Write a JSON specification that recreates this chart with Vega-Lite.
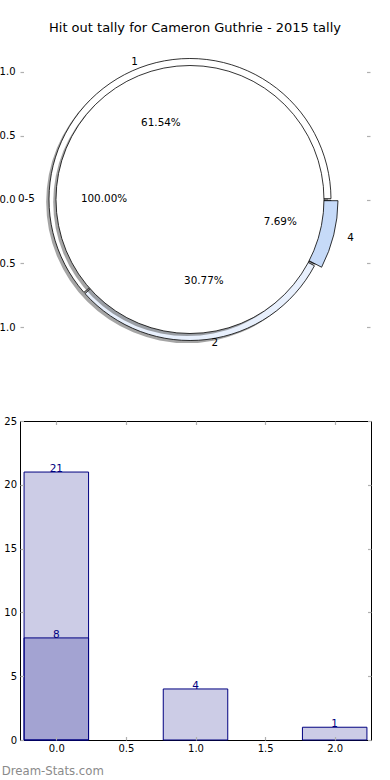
{
  "$schema": "https://vega.github.io/schema/vega-lite/v6.json",
  "padding": {"left": -5, "top": 22, "right": 0, "bottom": 0},
  "spacing": 68,
  "bounds": "flush",
  "config": {
    "locale": {"number": {"decimal": ".", "thousands": ",", "grouping": [3], "currency": ["$", ""], "minus": "-"}},
    "font": "DejaVu Sans",
    "view": {"stroke": null},
    "axis": {"labelFont": "DejaVu Sans", "labelFontSize": 10, "labelColor": "black", "tickColor": "#b0b0b0", "tickWidth": 1.2, "grid": false, "domain": false, "title": null, "minExtent": 0},
    "text": {"font": "DejaVu Sans", "color": "black"}
  },
  "vconcat": [
    {
      "width": 350,
      "height": 307,
      "title": {"text": "Hit out tally for Cameron Guthrie - 2015 tally", "fontSize": 13, "fontWeight": "normal", "color": "black", "anchor": "middle", "offset": 8},
      "layer": [
        {
          "data": {"values": [{"label": "0-5", "count": 1}]},
          "mark": {"type": "arc", "radius": 141, "fill": "#4c4c4c", "fillOpacity": 0.5, "strokeWidth": 0},
          "encoding": {
            "theta": {"field": "count", "type": "quantitative", "stack": true, "scale": {"range": [1.5708, 7.854]}},
            "x": {"datum": -0.02, "type": "quantitative", "scale": {"domain": [-1.206, 1.277], "nice": false, "zero": false}, "axis": null},
            "y": {"datum": -0.02, "type": "quantitative", "scale": {"domain": [-1.2, 1.2], "nice": false, "zero": false}, "axis": null}
          }
        },
        {
          "data": {"values": [
            {"label": "4", "count": 1, "pct": "7.69%", "ord": 1},
            {"label": "2", "count": 4, "pct": "30.77%", "ord": 2},
            {"label": "1", "count": 8, "pct": "61.54%", "ord": 3}
          ]},
          "encoding": {
            "theta": {"field": "count", "type": "quantitative", "stack": true, "scale": {"range": [1.5708, 7.854]}},
            "order": {"field": "ord", "type": "quantitative"},
            "color": {"field": "label", "type": "nominal", "scale": {"domain": ["4", "2", "1"], "range": ["#c6daf8", "#e8f0fd", "#ffffff"]}, "legend": null},
            "x": {"datum": 0, "type": "quantitative", "scale": {"domain": [-1.206, 1.277], "nice": false, "zero": false}, "axis": null},
            "y": {"datum": 0, "type": "quantitative", "scale": {"domain": [-1.2, 1.2], "nice": false, "zero": false},
                  "axis": {"orient": "left", "values": [-1, -0.5, 0, 0.5, 1], "format": ".1f", "offset": -3.5, "tickSize": 3.5, "labelPadding": 5}}
          },
          "layer": [
            {
              "mark": {"type": "arc", "radius": 141, "radius2": 0, "stroke": "black", "strokeWidth": 0.8, "padAngle": 0.012}
            },
            {
              "mark": {"type": "arc", "radius": 148, "radius2": 133, "stroke": "black", "strokeWidth": 0.8, "padAngle": 0.012},
              "encoding": {"opacity": {"condition": {"test": "datum.label == '4'", "value": 1}, "value": 0}}
            }
          ]
        },
        {
          "data": {"values": [{"label": "0-5", "count": 1, "pct": "100.00%"}]},
          "encoding": {
            "theta": {"field": "count", "type": "quantitative", "stack": true, "scale": {"range": [1.5708, 7.854]}},
            "x": {"datum": 0, "type": "quantitative", "scale": {"domain": [-1.206, 1.277], "nice": false, "zero": false}, "axis": null},
            "y": {"datum": 0, "type": "quantitative", "scale": {"domain": [-1.2, 1.2], "nice": false, "zero": false},
                  "axis": {"orient": "right", "values": [-1, -0.5, 0, 0.5, 1], "labels": false, "offset": -3.5, "tickSize": 3.5}}
          },
          "layer": [
            {
              "mark": {"type": "arc", "radius": 134, "fill": "#4c4c4c", "fillOpacity": 0.5, "strokeWidth": 0, "xOffset": -2.8, "yOffset": 2.6}
            },
            {
              "mark": {"type": "arc", "radius": 134, "fill": "white", "stroke": "black", "strokeWidth": 0.8}
            },
            {
              "mark": {"type": "text", "radius": 86, "align": "center", "baseline": "middle", "fontSize": 10.4},
              "encoding": {"text": {"field": "pct"}}
            },
            {
              "mark": {"type": "text", "radius": 155, "align": "right", "baseline": "middle", "fontSize": 10.4},
              "encoding": {"text": {"field": "label"}}
            }
          ]
        },
        {
          "data": {"values": [
            {"label": "4", "count": 1, "pct": "7.69%", "ord": 1},
            {"label": "2", "count": 4, "pct": "30.77%", "ord": 2},
            {"label": "1", "count": 8, "pct": "61.54%", "ord": 3}
          ]},
          "encoding": {
            "theta": {"field": "count", "type": "quantitative", "stack": true, "scale": {"range": [1.5708, 7.854]}},
            "order": {"field": "ord", "type": "quantitative"},
            "x": {"datum": 0, "type": "quantitative", "scale": {"domain": [-1.206, 1.277], "nice": false, "zero": false}, "axis": null},
            "y": {"datum": 0, "type": "quantitative", "scale": {"domain": [-1.2, 1.2], "nice": false, "zero": false}, "axis": null}
          },
          "layer": [
            {
              "mark": {"type": "text", "radius": 147, "align": "right", "baseline": "middle", "fontSize": 10.4},
              "encoding": {"text": {"condition": {"test": "datum.label == '1'", "field": "label"}, "value": ""}}
            },
            {
              "mark": {"type": "text", "radius": 145, "align": "left", "baseline": "middle", "fontSize": 10.4, "dx": 4},
              "encoding": {"text": {"condition": {"test": "datum.label == '2'", "field": "label"}, "value": ""}}
            },
            {
              "mark": {"type": "text", "radius": 162, "align": "left", "baseline": "middle", "fontSize": 10.4},
              "encoding": {"text": {"condition": {"test": "datum.label == '4'", "field": "label"}, "value": ""}}
            },
            {
              "mark": {"type": "text", "radius": 82, "align": "center", "baseline": "middle", "fontSize": 10.4},
              "encoding": {"text": {"condition": {"test": "datum.label == '1'", "field": "pct"}, "value": ""}}
            },
            {
              "mark": {"type": "text", "radius": 82, "align": "center", "baseline": "middle", "fontSize": 10.4, "dx": 4},
              "encoding": {"text": {"condition": {"test": "datum.label == '2'", "field": "pct"}, "value": ""}}
            },
            {
              "mark": {"type": "text", "radius": 93, "align": "center", "baseline": "middle", "fontSize": 10.4},
              "encoding": {"text": {"condition": {"test": "datum.label == '4'", "field": "pct"}, "value": ""}}
            }
          ]
        }
      ],
      "resolve": {"scale": {"theta": "independent", "color": "independent"}, "axis": {"y": "independent"}}
    },
    {
      "width": 351,
      "height": 319,
      "view": {"stroke": "black", "strokeWidth": 1},
      "title": {"text": "Dream-Stats.com", "orient": "bottom", "anchor": "start", "frame": "bounds", "fontSize": 11.7, "fontWeight": "normal", "color": "#8a8a8a", "offset": 13, "dx": -2},
      "data": {"values": [
        {"x": 0, "v": 21},
        {"x": 1, "v": 4},
        {"x": 2, "v": 1},
        {"x": 0, "v": 8}
      ]},
      "layer": [
        {
          "mark": {"type": "bar", "width": 64.5, "fill": "#000080", "fillOpacity": 0.2, "stroke": "#000080", "strokeWidth": 1},
          "encoding": {
            "x": {"field": "x", "type": "quantitative", "scale": {"domain": [-0.225, 2.225], "nice": false, "zero": false},
                  "axis": {"orient": "bottom", "values": [0, 0.5, 1, 1.5, 2], "format": ".1f", "offset": -3.5, "tickSize": 3.5, "labelPadding": 3, "zindex": 1}},
            "y": {"field": "v", "type": "quantitative", "stack": null, "scale": {"domain": [0, 25], "nice": false},
                  "axis": {"orient": "left", "values": [0, 5, 10, 15, 20, 25], "offset": -3.5, "tickSize": 3.5, "labelPadding": 3.5, "zindex": 1}}
          }
        },
        {
          "mark": {"type": "text", "color": "#000080", "fontSize": 10.5, "baseline": "alphabetic", "dy": 0},
          "encoding": {
            "x": {"field": "x", "type": "quantitative", "scale": {"domain": [-0.225, 2.225], "nice": false, "zero": false}, "axis": null},
            "y": {"field": "v", "type": "quantitative", "stack": null, "scale": {"domain": [0, 25], "nice": false}, "axis": null},
            "text": {"field": "v", "type": "quantitative"}
          }
        },
        {
          "mark": {"type": "point", "opacity": 0},
          "encoding": {
            "x": {"field": "x", "type": "quantitative", "scale": {"domain": [-0.225, 2.225], "nice": false, "zero": false},
                  "axis": {"orient": "top", "values": [0, 0.5, 1, 1.5, 2], "labels": false, "offset": -3.5, "tickSize": 3.5, "zindex": 1}},
            "y": {"field": "v", "type": "quantitative", "stack": null, "scale": {"domain": [0, 25], "nice": false},
                  "axis": {"orient": "right", "values": [0, 5, 10, 15, 20, 25], "labels": false, "offset": -3.5, "tickSize": 3.5, "zindex": 1}}
          }
        }
      ],
      "resolve": {"axis": {"x": "independent", "y": "independent"}}
    }
  ]
}
